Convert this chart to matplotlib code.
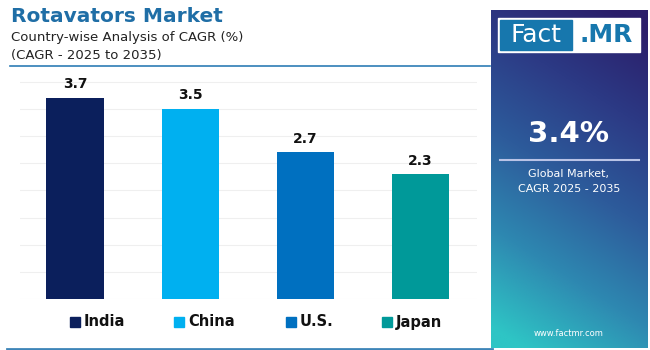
import numpy as np
import matplotlib
matplotlib.use("Agg")
import matplotlib.pyplot as plt
from matplotlib.colors import LinearSegmentedColormap
from matplotlib.patches import Rectangle

countries = ["India", "China", "U.S.", "Japan"]
cagr = [3.7, 3.5, 2.7, 2.3]
colors = ["#0b1f5c", "#00b0f0", "#0070c0", "#009999"]
global_cagr = "3.4%"

FONT = "DejaVu Sans"
plt.rcParams["font.family"] = FONT

fig = plt.figure(figsize=(6.5, 3.5), dpi=100)
W, H = 650, 350


def fx(px):
    return px / W


def fy(py):
    return 1 - py / H


# --- bar chart ---
ax = fig.add_axes([fx(20), fy(299), fx(477) - fx(20), fy(79) - fy(299)])
x = np.arange(len(countries))
ax.bar(x, cagr, width=0.5, color=colors, zorder=3)
for xi, v in zip(x, cagr):
    ax.text(xi, v + 0.12, f"{v:.1f}", ha="center", va="bottom",
            fontsize=10, fontweight="bold", color="#111111")
ax.set_xlim(-0.48, 3.49)
ax.set_ylim(0, 4.05)
ax.set_yticks(np.arange(0, 4.01, 0.5))
ax.grid(axis="y", color="#efefef", lw=0.8, zorder=0)
ax.tick_params(left=False, bottom=False, labelleft=False, labelbottom=False)
for s in ax.spines.values():
    s.set_visible(False)

# legend
leg_x = [70, 174, 286, 382]
for lx, name, c in zip(leg_x, countries, colors):
    fig.patches.append(Rectangle((fx(lx), fy(327)), 10 / W, 10 / H,
                                 transform=fig.transFigure, color=c))
    fig.text(fx(lx + 14), fy(322), name, fontsize=10.5, fontweight="bold",
             va="center", ha="left", color="#111111")

# titles
fig.text(fx(11), fy(16), "Rotavators Market", fontsize=14.5, fontweight="bold",
         color="#1f6ea6", va="center")
fig.text(fx(11), fy(38), "Country-wise Analysis of CAGR (%)", fontsize=9.5,
         color="#222222", va="center")
fig.text(fx(11), fy(56), "(CAGR - 2025 to 2035)", fontsize=9.5,
         color="#222222", va="center")
fig.add_artist(plt.Line2D([fx(10), fx(490)], [fy(66), fy(66)],
                          color="#2e7db5", lw=1.2))
fig.add_artist(plt.Line2D([fx(7), fx(492)], [fy(348.5), fy(348.5)],
                          color="#3d85b8", lw=2))

# --- right side panel with gradient ---
pax = fig.add_axes([fx(491), fy(348), fx(648) - fx(491), fy(10) - fy(348)])
gx, gy = np.meshgrid(np.linspace(0, 1, 200), np.linspace(0, 1, 400))
t = np.clip(0.85 * gy + 0.25 * gx - 0.05, 0, 1)
cmap = LinearSegmentedColormap.from_list(
    "panel", ["#2ec5c5", "#2e88b1", "#2d5b9b", "#2c3a85", "#2b1e6a"])
pax.imshow(t, cmap=cmap, origin="lower", aspect="auto", extent=[0, 1, 0, 1])
pax.set_xlim(0, 1)
pax.set_ylim(0, 1)
pax.axis("off")

# logo
fig.patches.append(Rectangle((fx(498), fy(52)), (640 - 498) / W, 34 / H,
                             transform=fig.transFigure, color="white"))
fig.patches.append(Rectangle((fx(500), fy(50)), (572 - 500) / W, 30 / H,
                             transform=fig.transFigure, color="#1777ad"))
fig.text(fx(536), fy(35), "Fact", fontsize=18, color="white",
         ha="center", va="center")
fig.text(fx(606), fy(35), ".MR", fontsize=18, fontweight="bold",
         color="#1777ad", ha="center", va="center")

fig.text(fx(569), fy(134), global_cagr, fontsize=21, fontweight="bold",
         color="white", ha="center", va="center")
fig.add_artist(plt.Line2D([fx(500), fx(639)], [fy(160), fy(160)],
                          color="#b9c3e6", lw=1.5))
fig.text(fx(569), fy(174), "Global Market,", fontsize=8, color="white",
         ha="center", va="center")
fig.text(fx(569), fy(189), "CAGR 2025 - 2035", fontsize=8, color="white",
         ha="center", va="center")
fig.text(fx(569), fy(334), "www.factmr.com", fontsize=6, color="white",
         ha="center", va="center")

fig.savefig("out.png", dpi=100, facecolor="white")
